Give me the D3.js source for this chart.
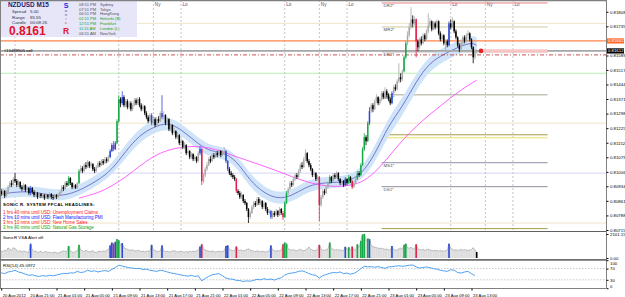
<!DOCTYPE html>
<html>
<head>
<meta charset="utf-8">
<script src="https://cdnjs.cloudflare.com/ajax/libs/d3/7.8.5/d3.min.js"></script>
<style>
  body { margin: 0; background: #fff; }
  svg { display: block; }
  text { font-family: "Liberation Sans", Arial, sans-serif; }
</style>
</head>
<body>
<div id="chart"></div>
<script>
// ---------- data ----------
var timeLabels = ["20 Aug 2012", "20 Aug 21:00", "21 Aug 01:00", "21 Aug 05:00", "21 Aug 09:00",
  "21 Aug 13:00", "21 Aug 17:00", "21 Aug 21:00", "22 Aug 01:00", "22 Aug 05:00", "22 Aug 09:00",
  "22 Aug 13:00", "22 Aug 17:00", "22 Aug 21:00", "23 Aug 01:00", "23 Aug 05:00", "23 Aug 09:00",
  "23 Aug 13:00"];
var timeTickBars = [0, 16, 32, 48, 64, 80, 96, 112, 128, 144, 160, 176, 192, 208, 224, 240, 256, 272];

// [open, high, low, close] per M15 bar
var candles = [
  [0.8091,0.8092,0.80885,0.80895],[0.80895,0.8092,0.8089,0.8091],[0.8091,0.80915,0.80875,0.80885],[0.80885,0.80915,0.8088,0.80905],
  [0.80905,0.8094,0.809,0.8093],[0.8093,0.8096,0.80925,0.8095],[0.8095,0.80965,0.8093,0.8094],[0.8094,0.8098,0.80935,0.8097],
  [0.8097,0.8100,0.8095,0.8096],[0.8096,0.8097,0.8093,0.8094],[0.8094,0.80965,0.8093,0.80955],[0.80955,0.8096,0.8092,0.8093],
  [0.8093,0.8094,0.8091,0.8092],[0.8092,0.8095,0.80915,0.8094],[0.8094,0.80945,0.80905,0.80915],[0.80915,0.80935,0.80905,0.80925],
  [0.80925,0.8093,0.8089,0.8090],[0.8090,0.80935,0.8089,0.80925],[0.80925,0.8093,0.80895,0.80905],[0.80905,0.80915,0.8088,0.8089],
  [0.8089,0.8091,0.8088,0.8090],[0.8090,0.80905,0.8087,0.8088],[0.8088,0.80905,0.80875,0.80895],[0.80895,0.8090,0.80875,0.80885],
  [0.80885,0.8090,0.80875,0.8089],[0.8089,0.80895,0.80865,0.80875],[0.80875,0.8090,0.8087,0.8089],[0.8089,0.80895,0.8087,0.8088],
  [0.8088,0.80905,0.80875,0.80895],[0.80895,0.8090,0.8087,0.8088],[0.8088,0.8089,0.80865,0.80875],[0.80875,0.80895,0.8087,0.8089],
  [0.8089,0.80895,0.8087,0.8088],[0.8088,0.8090,0.80875,0.8089],[0.8089,0.80915,0.80885,0.80905],[0.80905,0.8094,0.8090,0.8093],
  [0.8093,0.8094,0.8091,0.8092],[0.8092,0.8096,0.80915,0.8095],[0.8095,0.8096,0.8093,0.8094],[0.8094,0.80985,0.80935,0.80975],
  [0.80975,0.8098,0.8094,0.8095],[0.8095,0.80955,0.8092,0.8093],[0.8093,0.8095,0.8092,0.8094],[0.8094,0.80945,0.8092,0.80925],
  [0.80925,0.80955,0.8092,0.8095],[0.8095,0.8102,0.80945,0.8101],[0.8101,0.8104,0.8100,0.81025],[0.81025,0.81035,0.8100,0.8101],
  [0.8101,0.8105,0.81005,0.8104],[0.8104,0.81055,0.8102,0.8103],[0.8103,0.81065,0.81025,0.81055],[0.81055,0.8106,0.81025,0.81035],
  [0.81035,0.81055,0.81025,0.81045],[0.81045,0.8105,0.8101,0.8102],[0.8102,0.8103,0.8100,0.8101],[0.8101,0.8104,0.81005,0.8103],
  [0.8103,0.8106,0.81025,0.8105],[0.8105,0.8106,0.8103,0.8104],[0.8104,0.8107,0.81035,0.8106],[0.8106,0.8107,0.8104,0.8105],
  [0.8105,0.8108,0.81045,0.8107],[0.8107,0.8108,0.8105,0.8106],[0.8106,0.8109,0.81055,0.8108],[0.8108,0.8112,0.81075,0.8111],
  [0.8111,0.8115,0.81105,0.8114],[0.8114,0.8116,0.8111,0.8112],[0.8112,0.8116,0.81115,0.8115],[0.8115,0.8127,0.81145,0.8126],
  [0.8126,0.8139,0.8125,0.8137],[0.8137,0.8138,0.8133,0.8135],[0.8135,0.8141,0.8134,0.8138],[0.8138,0.8139,0.8133,0.8134],
  [0.8134,0.8137,0.8133,0.8136],[0.8136,0.8137,0.8132,0.8133],[0.8133,0.8136,0.8132,0.8135],[0.8135,0.8136,0.8131,0.8132],
  [0.8132,0.8135,0.8131,0.8134],[0.8134,0.81375,0.81335,0.81365],[0.81365,0.81375,0.8134,0.8135],[0.8135,0.8138,0.8134,0.8137],
  [0.8137,0.8138,0.8133,0.8134],[0.8134,0.8135,0.8131,0.8132],[0.8132,0.81345,0.8131,0.81335],[0.81335,0.8134,0.8129,0.8130],
  [0.8130,0.8131,0.8127,0.8128],[0.8128,0.8129,0.8125,0.8126],[0.8126,0.8130,0.81255,0.8129],[0.8129,0.8130,0.8124,0.8125],
  [0.8125,0.8128,0.8124,0.8127],[0.8127,0.8128,0.8123,0.8124],[0.8124,0.8128,0.81235,0.8127],[0.8127,0.81285,0.8125,0.8126],
  [0.8126,0.8131,0.81255,0.8130],[0.8130,0.8139,0.8127,0.8128],[0.8128,0.8131,0.8127,0.8129],[0.8129,0.81295,0.8124,0.8125],
  [0.8125,0.8128,0.8124,0.8127],[0.8127,0.81275,0.8121,0.8122],[0.8122,0.8125,0.8121,0.8124],[0.8124,0.81245,0.8119,0.8120],
  [0.8120,0.81225,0.8119,0.8121],[0.8121,0.81215,0.8117,0.8118],[0.8118,0.81205,0.8117,0.8119],[0.8119,0.81195,0.8114,0.8115],
  [0.8115,0.81175,0.8114,0.8116],[0.8116,0.81165,0.8112,0.8113],[0.8113,0.81155,0.8112,0.8114],[0.8114,0.81145,0.8109,0.8110],
  [0.8110,0.81125,0.8109,0.8111],[0.8111,0.81115,0.8107,0.8108],[0.8108,0.81105,0.8107,0.81095],[0.81095,0.8110,0.8106,0.8107],
  [0.8107,0.8109,0.8106,0.8108],[0.8108,0.81085,0.8105,0.8106],[0.8106,0.8111,0.81055,0.8110],[0.8110,0.81135,0.8109,0.8112],
  [0.8112,0.81125,0.8094,0.8096],[0.8096,0.8100,0.8095,0.8099],[0.8099,0.8103,0.8098,0.8102],[0.8102,0.81055,0.8101,0.8104],
  [0.8104,0.8108,0.81035,0.8107],[0.8107,0.81085,0.8105,0.8106],[0.8106,0.8110,0.81055,0.8109],[0.8109,0.8110,0.8107,0.8108],
  [0.8108,0.8111,0.81075,0.8110],[0.8110,0.8111,0.8108,0.8109],[0.8109,0.8112,0.81085,0.8111],[0.8111,0.81115,0.8108,0.8109],
  [0.8109,0.81115,0.81085,0.81105],[0.81105,0.8113,0.81095,0.8111],[0.8111,0.81115,0.8105,0.8106],[0.8106,0.81065,0.8101,0.8102],
  [0.8102,0.8103,0.8099,0.8100],[0.8100,0.8101,0.8098,0.8099],[0.8099,0.8100,0.8097,0.8098],[0.8098,0.8099,0.8096,0.8097],
  [0.8097,0.80975,0.8090,0.8091],[0.8091,0.8092,0.8089,0.8090],[0.8090,0.8091,0.8087,0.8088],[0.8088,0.80905,0.8087,0.8089],
  [0.8089,0.80895,0.8085,0.8086],[0.8086,0.8087,0.8084,0.8085],[0.8085,0.80855,0.8081,0.8082],[0.8082,0.80825,0.8075,0.8078],
  [0.8078,0.8081,0.8077,0.8080],[0.8080,0.8084,0.80795,0.8083],[0.8083,0.8086,0.8082,0.8085],[0.8085,0.8086,0.8083,0.8084],
  [0.8084,0.8088,0.80835,0.8087],[0.8087,0.8088,0.8084,0.8085],[0.8085,0.8087,0.8084,0.8086],[0.8086,0.80865,0.8082,0.8083],
  [0.8083,0.8086,0.8082,0.8085],[0.8085,0.80855,0.8081,0.8082],[0.8082,0.8083,0.8079,0.8080],[0.8080,0.8082,0.8079,0.8081],
  [0.8081,0.80815,0.8077,0.8078],[0.8078,0.8081,0.8077,0.8080],[0.8080,0.8081,0.8078,0.8079],[0.8079,0.8082,0.80785,0.8081],
  [0.8081,0.80815,0.8078,0.8079],[0.8079,0.8083,0.80785,0.8082],[0.8082,0.80825,0.8079,0.8080],[0.8080,0.8081,0.80765,0.8078],
  [0.8078,0.8086,0.80775,0.8085],[0.8085,0.8091,0.80845,0.8090],[0.8090,0.8093,0.8089,0.8092],[0.8092,0.8096,0.80915,0.8095],
  [0.8095,0.8096,0.8093,0.8094],[0.8094,0.8098,0.80935,0.8097],[0.8097,0.8100,0.8096,0.8099],[0.8099,0.8100,0.8097,0.8098],
  [0.8098,0.8102,0.80975,0.8101],[0.8101,0.8105,0.8100,0.8104],[0.8104,0.81055,0.8102,0.8103],[0.8103,0.8108,0.81025,0.8107],
  [0.8107,0.8112,0.8106,0.8110],[0.8110,0.81105,0.8105,0.8106],[0.8106,0.8107,0.8103,0.8104],[0.8104,0.8105,0.8101,0.8102],
  [0.8102,0.81025,0.8098,0.8099],[0.8099,0.8101,0.8098,0.8100],[0.8100,0.81005,0.8096,0.8097],[0.8097,0.8099,0.8096,0.8098],
  [0.8098,0.80985,0.8076,0.8084],[0.8084,0.8089,0.8083,0.8088],[0.8088,0.8092,0.8087,0.8091],[0.8091,0.8092,0.8089,0.8090],
  [0.8090,0.8094,0.80895,0.8093],[0.8093,0.8096,0.8092,0.8095],[0.8095,0.8099,0.80945,0.8098],[0.8098,0.80985,0.8095,0.8096],
  [0.8096,0.8100,0.80955,0.8099],[0.8099,0.8100,0.8097,0.8098],[0.8098,0.8101,0.80975,0.8100],[0.8100,0.81005,0.8096,0.8097],
  [0.8097,0.80975,0.8094,0.8095],[0.8095,0.8097,0.8094,0.8096],[0.8096,0.80965,0.8093,0.8094],[0.8094,0.8098,0.80935,0.8097],
  [0.8097,0.80975,0.8094,0.8095],[0.8095,0.8099,0.80945,0.8098],[0.8098,0.80985,0.8095,0.8096],[0.8096,0.80965,0.8092,0.8093],
  [0.8093,0.8096,0.80925,0.8095],[0.8095,0.8098,0.80945,0.8097],[0.8097,0.8101,0.80965,0.8100],[0.8100,0.8101,0.8098,0.8099],
  [0.8099,0.8105,0.80985,0.8104],[0.8104,0.8113,0.81035,0.8112],[0.8112,0.8120,0.8111,0.8118],[0.8118,0.8119,0.8114,0.8116],
  [0.8116,0.8126,0.81155,0.8125],[0.8125,0.8133,0.8124,0.8131],[0.8131,0.8135,0.8130,0.8134],[0.8134,0.8135,0.81305,0.8132],
  [0.8132,0.8137,0.81315,0.8136],[0.8136,0.81395,0.8135,0.8138],[0.8138,0.81385,0.8134,0.8135],[0.8135,0.8138,0.8134,0.8137],
  [0.8137,0.8141,0.8136,0.8140],[0.8140,0.8141,0.8137,0.8138],[0.8138,0.8143,0.81375,0.8141],[0.8141,0.8142,0.8138,0.8139],
  [0.8139,0.8140,0.8136,0.8137],[0.8137,0.8138,0.8134,0.8135],[0.8135,0.8141,0.81345,0.8140],[0.8140,0.8144,0.8139,0.8143],
  [0.8143,0.81445,0.8141,0.8142],[0.8142,0.8147,0.81415,0.8146],[0.8146,0.8155,0.8145,0.8148],[0.8148,0.8150,0.81455,0.8147],
  [0.8147,0.8152,0.8146,0.8151],[0.8151,0.8159,0.81505,0.8158],[0.8158,0.8166,0.8157,0.8165],[0.8165,0.8171,0.8164,0.8169],
  [0.8169,0.8175,0.8168,0.8173],[0.8173,0.8183,0.8172,0.8177],[0.8177,0.8179,0.8173,0.8175],[0.8175,0.81785,0.8174,0.8177],
  [0.8177,0.81775,0.8158,0.8166],[0.8166,0.8167,0.8161,0.8163],[0.8163,0.8168,0.8162,0.8167],[0.8167,0.81685,0.8164,0.8165],
  [0.8165,0.8170,0.81645,0.8169],[0.8169,0.8170,0.8166,0.8167],[0.8167,0.8172,0.81665,0.8171],[0.8171,0.8180,0.8170,0.8174],
  [0.8174,0.81775,0.8173,0.8176],[0.8176,0.81765,0.8171,0.8172],[0.8172,0.8176,0.81715,0.8175],[0.8175,0.8176,0.8172,0.8173],
  [0.8173,0.8177,0.81725,0.8176],[0.8176,0.81765,0.8169,0.8170],[0.8170,0.8171,0.8166,0.8167],[0.8167,0.8170,0.8166,0.8169],
  [0.8169,0.81695,0.8164,0.8165],[0.8165,0.8167,0.8161,0.8166],[0.8166,0.8167,0.8163,0.8164],[0.8164,0.8176,0.81635,0.8175],
  [0.8175,0.8177,0.8172,0.8173],[0.8173,0.8178,0.81725,0.8176],[0.8176,0.81765,0.8170,0.8171],[0.8171,0.8172,0.8167,0.8168],
  [0.8168,0.81685,0.8163,0.8164],[0.8164,0.8165,0.81605,0.8162],[0.8162,0.8166,0.8161,0.8165],[0.8165,0.8169,0.8164,0.8168],
  [0.8168,0.8169,0.8165,0.8166],[0.8166,0.8170,0.81655,0.8169],[0.8169,0.81715,0.8168,0.8170],[0.8170,0.81705,0.8166,0.8167],
  [0.8167,0.81675,0.8162,0.8163],[0.8163,0.81635,0.8155,0.8158],[0.8158,0.8162,0.8157,0.8161],[0.8161,0.8162,0.8160,0.81612]
];

// Sonic R VSA signal bars
var blueBars = [17, 63, 64, 66, 70, 87, 93, 115, 130, 131, 156, 199, 213, 226, 259];
var greenBars = [39, 45, 67, 68, 164, 165, 190, 201, 206, 208, 209, 210, 212, 233, 234];
var redBars = [65, 116, 136, 163, 184, 203, 240];

var volumes = [
  620,540,700,580,880,760,650,900,820,700,560,640,520,600,580,490,520,
  1250,
  700,560,620,480,530,600,450,520,580,470,500,440,480,520,460,430,500,560,620,580,540,
  1050,
  600,520,480,560,620,
  1150,
  700,620,560,680,600,520,580,640,520,480,560,600,540,620,560,680,720,
  1100,1350,1250,1400,1650,1550,1100,1300,
  900,820,760,700,680,720,640,600,680,620,560,600,540,580,620,560,
  1150,
  700,640,600,560,620,
  1100,
  620,560,600,520,560,600,640,580,520,560,600,540,500,560,520,580,540,600,560,620,680,
  1000,1200,
  800,700,640,600,560,620,580,520,560,600,540,580,620,
  1050,1100,
  760,700,640,680,
  1000,
  720,660,700,620,680,740,800,700,640,600,560,620,580,540,600,560,520,580,620,
  1100,
  700,640,600,660,620,700,
  1200,1350,1250,
  800,720,680,740,660,620,700,760,680,640,700,820,950,760,700,640,680,720,
  1150,
  760,700,660,720,780,
  1350,
  820,760,700,740,680,720,660,620,
  980,700,950,640,1000,680,720,
  1200,900,1500,2050,2101,1500,1700,1650,
  1100,1000,950,900,880,820,860,800,760,780,720,700,
  1050,
  740,680,720,800,860,760,
  1150,1250,
  900,860,940,820,760,
  1200,
  800,740,700,760,680,720,780,700,660,620,680,640,600,660,620,580,640,680,
  1250,880,
  760,700,720,660,700,740,680,720,700,660,700,740,
  900,700,520
];

// RSI(14), one reading every second bar
var rsiValues = [
  55, 52, 58, 60, 64, 58,
  55, 50, 46, 48, 44, 42, 45, 43, 46,
  44, 47, 50, 53, 52, 55, 54, 60, 56, 58, 64,
  60, 62, 58, 61, 63, 60, 67,
  74, 82, 79,
  76, 73, 72, 70, 71, 67, 68, 64, 62, 60,
  64, 62, 58, 55, 52, 50, 47, 45, 43, 46,
  42, 44, 26,
  35, 42, 48, 50, 52,
  44, 36, 33, 32, 28, 27, 24, 26, 25, 28,
  32, 30, 34, 31, 33, 29, 34, 37, 47, 52,
  54, 56, 60, 62, 58, 52, 48, 46, 36, 45, 49,
  53, 56, 55, 58, 52, 54, 50, 53, 60,
  70, 78, 76, 77,
  75, 77, 74, 71, 76, 77, 79, 80, 78, 80, 82, 83, 76,
  72, 74, 76, 73, 70, 68, 64, 62, 60, 66, 64,
  56, 54, 58, 60, 52, 45.0972
];

// Sonic R dragon (EMA band) sampled every 8 bars
var dragonBars = [0,8,16,24,32,40,48,56,64,72,80,88,96,104,112,120,128,136,144,152,160,168,176,184,192,200,208,216,224,232,240,248,256,264,272,275];
var dragonMid = [0.80895,0.80905,0.80908,0.80897,0.80885,0.80895,0.80925,0.80965,0.81015,0.8111,0.8119,0.8123,0.81255,0.8122,0.8116,0.8111,0.81105,0.81065,0.8096,0.8090,0.8087,0.80885,0.8093,0.8095,0.80953,0.80957,0.8099,0.8109,0.8124,0.8133,0.8146,0.81555,0.81595,0.8163,0.81655,0.8164];
var dragonHigh = [0.80925,0.80935,0.80938,0.80927,0.80915,0.80925,0.80955,0.80995,0.81045,0.81145,0.81225,0.81265,0.81285,0.8125,0.8119,0.8114,0.81135,0.81095,0.80995,0.8093,0.8090,0.80915,0.8096,0.8098,0.80983,0.80987,0.8102,0.8113,0.8128,0.81375,0.8150,0.8159,0.8163,0.81665,0.8169,0.8168];
var dragonLow = [0.8087,0.8088,0.80883,0.80872,0.8086,0.8087,0.8090,0.8094,0.8099,0.81075,0.81155,0.8120,0.81225,0.8119,0.8113,0.8108,0.81075,0.81035,0.80925,0.8087,0.8084,0.80855,0.8090,0.8092,0.80925,0.8093,0.8096,0.8105,0.8119,0.81285,0.81415,0.81515,0.8156,0.81595,0.81625,0.8161];

// slow trend MA (magenta)
var slowBars = [45,56,64,72,80,88,96,104,112,120,128,136,144,152,160,168,176,184,192,200,208,216,224,232,240,248,256,264,272,275];
var slowMA = [0.80875,0.8090,0.80935,0.8098,0.81035,0.81085,0.81115,0.8113,0.81135,0.81128,0.81108,0.81082,0.81058,0.81035,0.8101,0.80982,0.80958,0.8094,0.80932,0.80935,0.8095,0.8100,0.8108,0.81165,0.81235,0.81295,0.8135,0.81405,0.8145,0.81465];

// price labels on the right axis (the one under the ask box is hidden there)
var priceTicks = [0.81808,0.81735,0.81589,0.81517,0.81444,0.81371,0.81298,0.81225,0.81152,0.81079,0.81006,0.80934,0.80861,0.80788,0.80715];

// quarter levels drawn across the chart
var levelPrices = [0.8175, 0.8150, 0.8125, 0.8100, 0.8075];
var levelColors = ["#eee4c8", "#b8f0b0", "#eee4c8", "#d4d4fa", "#eee4c8"];
var levelStart = [0, 0, 0, 0, 78];

// daily pivot set, drawn from the day start
var pivotNames = ["DR2*", "MR2*", "DR1*", "MR1*", "P", "", "MS1*", "DS1*", ""];
var pivotPrices = [0.81852, 0.81732, 0.81607, 0.81392, 0.81192, 0.81177, 0.81052, 0.80932, 0.80722];
var pivotColors = ["#e88080", "#cfc89a", "#b0b0b0", "#a8a890", "#a89c48", "#ece060", "#9090a8", "#9090a0", "#a89c48"];
var pivotFrom = 220, pivotTo = 316;

// session separators
var sessionBars = [8, 68, 88, 104, 164, 184, 200, 260, 280, 296];
var sessionNames = ["Lo", "Lo", "Ny", "Lo", "Lo", "Ny", "Lo", "Lo", "Ny", "Lo"];

var bid = 0.81612, ask = 0.81662, orderPrice = 0.81592;

var clockTimes = ["08:51 PM", "07:51 PM", "06:51 PM", "01:51 PM", "12:51 PM", "11:51 AM", "06:51 AM"];
var clockCities = ["Sydney", "Tokyo", "HongKong", "Helsinki (B)", "Frankfurt", "London (L)", "NewYork"];
var clockColors = ["#505060", "#505060", "#505060", "#18a018", "#18a018", "#18a018", "#505060"];

var headlines = ["1 hrs 40 mins until USD: Unemployment Claims",
  "2 hrs 10 mins until USD: Flash Manufacturing PMI",
  "3 hrs 10 mins until USD: New Home Sales",
  "3 hrs 40 mins until USD: Natural Gas Storage"];
var headlineColors = ["#ff1010", "#1010ff", "#ff1010", "#10a010"];

// ---------- layout ----------
var W = 625, H = 297, plotRight = 606;
var mainBottom = 231;
var headerWidth = 137, headerHeight = 37;

var svg = d3.select("#chart").append("svg")
  .attr("width", W)
  .attr("height", H);

svg.append("rect").attr("width", W).attr("height", H).attr("fill", "#fff");

var x = d3.scaleLinear().domain([0, 296]).range([1.2, 1.2 + 296 * 1.729]);
var y = d3.scaleLinear().domain([0.80715, 0.81867]).range([230, 0]);
var yVol = d3.scaleLinear().domain([0, 2101.15]).range([258, 234]);
var yRsi = d3.scaleLinear().domain([0, 100]).range([288.2, 260.2]);

svg.append("clipPath").attr("id", "mainclip")
  .append("rect").attr("x", 0).attr("y", 0).attr("width", plotRight).attr("height", mainBottom);

var main = svg.append("g").attr("clip-path", "url(#mainclip)");

// quarter levels
levelPrices.forEach(function (p, k) {
  main.append("line")
    .attr("x1", levelStart[k]).attr("x2", plotRight)
    .attr("y1", y(p)).attr("y2", y(p))
    .style("stroke", levelColors[k]).style("stroke-width", 1);
});

// session lines (labels under the header panel are covered there)
sessionBars.forEach(function (b, k) {
  main.append("line")
    .attr("x1", x(b)).attr("x2", x(b))
    .attr("y1", 0).attr("y2", mainBottom)
    .style("stroke", "#c4c4c4").style("stroke-dasharray", "2,2");
  if (x(b) > headerWidth) {
    main.append("text")
      .attr("x", x(b) + 1.5).attr("y", 6)
      .style("font-size", "4.6px").style("fill", "#4a4a8a")
      .text(sessionNames[k]);
  }
});

// pivots
pivotPrices.forEach(function (p, k) {
  main.append("line")
    .attr("x1", x(pivotFrom)).attr("x2", x(pivotTo))
    .attr("y1", y(p)).attr("y2", y(p))
    .style("stroke", pivotColors[k]).style("stroke-width", 1);
  if (pivotNames[k]) {
    main.append("text")
      .attr("x", x(pivotFrom) + 2).attr("y", y(p) + 4)
      .style("font-size", "4.4px").style("fill", "#505050")
      .text(pivotNames[k]);
  }
});

// dragon band + mid line
var band = d3.area()
  .x(function (d, i) { return x(dragonBars[i]); })
  .y0(function (d, i) { return y(dragonLow[i]); })
  .y1(function (d, i) { return y(dragonHigh[i]); })
  .curve(d3.curveBasis);
main.append("path").datum(dragonMid)
  .attr("d", band)
  .style("fill", "#cfe4f8").style("stroke", "none");

var midLine = d3.line()
  .x(function (d, i) { return x(dragonBars[i]); })
  .y(function (d) { return y(d); })
  .curve(d3.curveBasis);
main.append("path").datum(dragonMid)
  .attr("d", midLine)
  .style("fill", "none").style("stroke", "#6a6ac8").style("stroke-width", 0.9);

var slowLine = d3.line()
  .x(function (d, i) { return x(slowBars[i]); })
  .y(function (d) { return y(d); })
  .curve(d3.curveBasis);
main.append("path").datum(slowMA)
  .attr("d", slowLine)
  .style("fill", "none").style("stroke", "#ff50ff").style("stroke-width", 0.9);

// bid / ask / order lines
main.append("line")
  .attr("x1", 0).attr("x2", plotRight).attr("y1", y(ask)).attr("y2", y(ask))
  .style("stroke", "#ff8448").style("stroke-width", 1.2);
main.append("line")
  .attr("x1", 0).attr("x2", plotRight).attr("y1", y(bid)).attr("y2", y(bid))
  .style("stroke", "#a6a6a6").style("stroke-width", 1.6);
main.append("rect")
  .attr("x", x(277.5)).attr("y", y(bid) - 1.6)
  .attr("width", x(pivotTo) - x(277.5)).attr("height", 3.2)
  .style("fill", "#f8c4c4");
main.append("line")
  .attr("x1", 0).attr("x2", plotRight).attr("y1", y(orderPrice)).attr("y2", y(orderPrice))
  .style("stroke", "#c85050").style("stroke-dasharray", "4,2,1,2");

// candles
function barColor(i, d) {
  if (blueBars.indexOf(i) >= 0) return "#2848d8";
  if (greenBars.indexOf(i) >= 0) return "#18a848";
  if (redBars.indexOf(i) >= 0) return "#e0204a";
  return d[3] >= d[0] ? "#a8a8a8" : "#000";
}

var bars = main.append("g").selectAll("g")
  .data(candles)
  .enter().append("g");

bars.append("line")
  .attr("x1", function (d, i) { return x(i); })
  .attr("x2", function (d, i) { return x(i); })
  .attr("y1", function (d) { return y(d[1]); })
  .attr("y2", function (d) { return y(d[2]); })
  .style("stroke", function (d, i) { return barColor(i, d); })
  .style("stroke-width", 0.8);

bars.append("rect")
  .attr("x", function (d, i) { return x(i) - 0.75; })
  .attr("width", 1.5)
  .attr("y", function (d) { return y(Math.max(d[0], d[3])); })
  .attr("height", function (d) { return Math.max(0.8, Math.abs(y(d[0]) - y(d[3]))); })
  .style("fill", function (d, i) { return barColor(i, d); });

main.append("circle")
  .attr("cx", x(277.5)).attr("cy", y(bid)).attr("r", 2.3)
  .style("fill", "#ec2020");

// order label
main.append("text")
  .attr("x", 4).attr("y", y(bid) + 1.5)
  .style("font-size", "4.2px").style("fill", "#000")
  .text("#15488505 sell");

// header box
var hdr = svg.append("g");
hdr.append("rect").attr("x", 0).attr("y", 0).attr("width", headerWidth).attr("height", headerHeight)
  .style("fill", "#e6e6f8");
hdr.append("text").attr("x", 8).attr("y", 7.4)
  .style("font-size", "6.4px").style("font-weight", "bold").style("fill", "#1c1c6c")
  .text("NZDUSD  M15");
[["Spread", "5.00"], ["Range", "85.55"], ["Candle", "00:08:26"]].forEach(function (r, k) {
  hdr.append("text").attr("x", 12).attr("y", 13.2 + k * 5.4)
    .style("font-size", "4.4px").style("fill", "#303040").text(r[0]);
  hdr.append("text").attr("x", 30).attr("y", 13.2 + k * 5.4)
    .style("font-size", "4.4px").style("fill", "#303040").text(r[1]);
});
hdr.append("text").attr("x", 9).attr("y", 35)
  .style("font-size", "12px").style("font-weight", "bold").style("fill", "#e4102c")
  .text("0.8161");
var sonic = ["S", "o", "n", "i", "c", "R"];
var sonicY = [7.5, 11.5, 15.5, 19.5, 23.5, 34];
var sonicSize = [7, 4.4, 4.4, 4.4, 4.4, 8.5];
var sonicColor = ["#1a2ae8", "#4050c0", "#4050c0", "#c05060", "#d03040", "#e01828"];
sonic.forEach(function (s, k) {
  hdr.append("text").attr("x", 66).attr("y", sonicY[k])
    .style("font-size", sonicSize[k] + "px")
    .style("font-weight", k === 0 || k === 5 ? "bold" : "normal")
    .style("text-anchor", "middle").style("fill", sonicColor[k])
    .text(s);
});
clockTimes.forEach(function (t, k) {
  hdr.append("text").attr("x", 79).attr("y", 5.8 + k * 4.8)
    .style("font-size", "4px").style("fill", clockColors[k]).text(t);
  hdr.append("text").attr("x", 100).attr("y", 5.8 + k * 4.8)
    .style("font-size", "4px").style("fill", clockColors[k]).text(clockCities[k]);
});

// headlines
svg.append("text").attr("x", 3).attr("y", 206)
  .style("font-size", "4.3px").style("font-weight", "bold").style("letter-spacing", "0.35px")
  .style("fill", "#000")
  .text("SONIC R. SYSTEM FFCAL HEADLINES:");
headlines.forEach(function (h, k) {
  svg.append("text").attr("x", 3).attr("y", 213.5 + k * 5)
    .style("font-size", "4.5px").style("fill", headlineColors[k]).text(h);
});

// ---------- volume panel ----------
var vol = svg.append("g");
vol.selectAll(".vbar").data(volumes).enter().append("rect")
  .attr("x", function (d, i) { return x(i) - 0.87; })
  .attr("width", 1.75)
  .attr("y", function (d) { return yVol(d); })
  .attr("height", function (d) { return yVol(0) - yVol(d); })
  .style("fill", "#dcdcdc");
vol.append("path").datum(volumes)
  .attr("d", d3.line().x(function (d, i) { return x(i); }).y(function (d) { return yVol(d); }))
  .style("fill", "none").style("stroke", "#9a9a9a").style("stroke-width", 0.6);

function volColor(i) {
  if (i === volumes.length - 1) return "#000";
  if (blueBars.indexOf(i) >= 0) return "#2848d8";
  if (greenBars.indexOf(i) >= 0) return "#18a848";
  if (redBars.indexOf(i) >= 0) return "#e0204a";
  return null;
}
volumes.forEach(function (v, i) {
  var c = volColor(i);
  if (!c) return;
  vol.append("rect")
    .attr("x", x(i) - 0.8).attr("width", 1.6)
    .attr("y", yVol(v)).attr("height", yVol(0) - yVol(v))
    .style("fill", c);
});
vol.append("text").attr("x", 3).attr("y", 239)
  .style("font-size", "4.4px").style("fill", "#000")
  .text("SonicR VSA   Alert off.");

// ---------- RSI panel ----------
var rsi = svg.append("g");
[70, 30].forEach(function (lv) {
  rsi.append("line")
    .attr("x1", 0).attr("x2", plotRight).attr("y1", yRsi(lv)).attr("y2", yRsi(lv))
    .style("stroke", "#c8c8c8").style("stroke-dasharray", "1.5,1.5");
});
rsi.append("path").datum(rsiValues)
  .attr("d", d3.line().x(function (d, i) { return x(i * 2); }).y(function (d) { return yRsi(d); }))
  .style("fill", "none").style("stroke", "#3c96f0").style("stroke-width", 0.9);
rsi.append("text").attr("x", 3).attr("y", 266.5)
  .style("font-size", "4.4px").style("fill", "#000")
  .text("RSI(14) 45.0972");

// ---------- frames ----------
var frame = svg.append("g").style("stroke", "#808080");
frame.append("line").attr("x1", 0).attr("x2", plotRight).attr("y1", 0.6).attr("y2", 0.6).style("stroke-width", 1.2);
frame.append("line").attr("x1", 0.5).attr("x2", 0.5).attr("y1", 0).attr("y2", 288);
frame.append("line").attr("x1", plotRight + 0.5).attr("x2", plotRight + 0.5).attr("y1", 0).attr("y2", 288);
frame.append("line").attr("x1", 0).attr("x2", plotRight).attr("y1", 231.5).attr("y2", 231.5).style("stroke", "#606060");
frame.append("line").attr("x1", 0).attr("x2", plotRight).attr("y1", 259.8).attr("y2", 259.8).style("stroke", "#707070").style("stroke-width", 1.8);
frame.append("line").attr("x1", 0).attr("x2", plotRight).attr("y1", 288.5).attr("y2", 288.5);

// ---------- axes ----------
var priceAxis = d3.axisRight(y)
  .tickValues(priceTicks)
  .tickSize(2)
  .tickPadding(1.5)
  .tickFormat(d3.format(".5f"));
var pa = svg.append("g")
  .attr("transform", "translate(" + (plotRight + 0.5) + ",0)")
  .call(priceAxis);
pa.select(".domain").remove();
pa.selectAll("text").style("font-size", "4.3px").style("font-family", "Liberation Sans, Arial, sans-serif").style("fill", "#000");
pa.selectAll("line").style("stroke", "#000");

function axisBox(price, fill, label) {
  svg.append("rect").attr("x", plotRight + 1).attr("y", y(price) - 2.6)
    .attr("width", 17).attr("height", 5.2).style("fill", fill);
  svg.append("text").attr("x", plotRight + 2).attr("y", y(price) + 1.5)
    .style("font-size", "4.3px").style("fill", "#fff").text(label);
}
axisBox(ask, "#ff6a2a", "0.81662");
axisBox(bid, "#000", "0.81612");

var volAxis = d3.axisRight(yVol).tickValues([2101.15, 0]).tickSize(2).tickPadding(1.5)
  .tickFormat(d3.format(".2f"));
var va = svg.append("g").attr("transform", "translate(" + (plotRight + 0.5) + ",0)").call(volAxis);
va.select(".domain").remove();
va.selectAll("text").style("font-size", "4.3px").style("font-family", "Liberation Sans, Arial, sans-serif");

var rsiAxis = d3.axisRight(yRsi).tickValues([100, 70, 30, 0]).tickSize(2).tickPadding(1.5);
var ra = svg.append("g").attr("transform", "translate(" + (plotRight + 0.5) + ",0)").call(rsiAxis);
ra.select(".domain").remove();
ra.selectAll("text").style("font-size", "4.3px").style("font-family", "Liberation Sans, Arial, sans-serif");
ra.selectAll(".tick").filter(function (d) { return d === 100; }).select("text").attr("dy", "0.9em");
ra.selectAll(".tick").filter(function (d) { return d === 0; }).select("text").attr("dy", "-0.1em");

var timeAxis = d3.axisBottom(x)
  .tickValues(timeTickBars)
  .tickSize(2)
  .tickFormat(function (d, i) { return timeLabels[i]; });
var ta = svg.append("g").attr("transform", "translate(0,288.5)").call(timeAxis);
ta.select(".domain").remove();
ta.selectAll("text")
  .style("font-size", "4.1px").style("font-family", "Liberation Sans, Arial, sans-serif")
  .style("text-anchor", "start").attr("x", 1).attr("dy", "0.9em");
</script>
</body>
</html>
